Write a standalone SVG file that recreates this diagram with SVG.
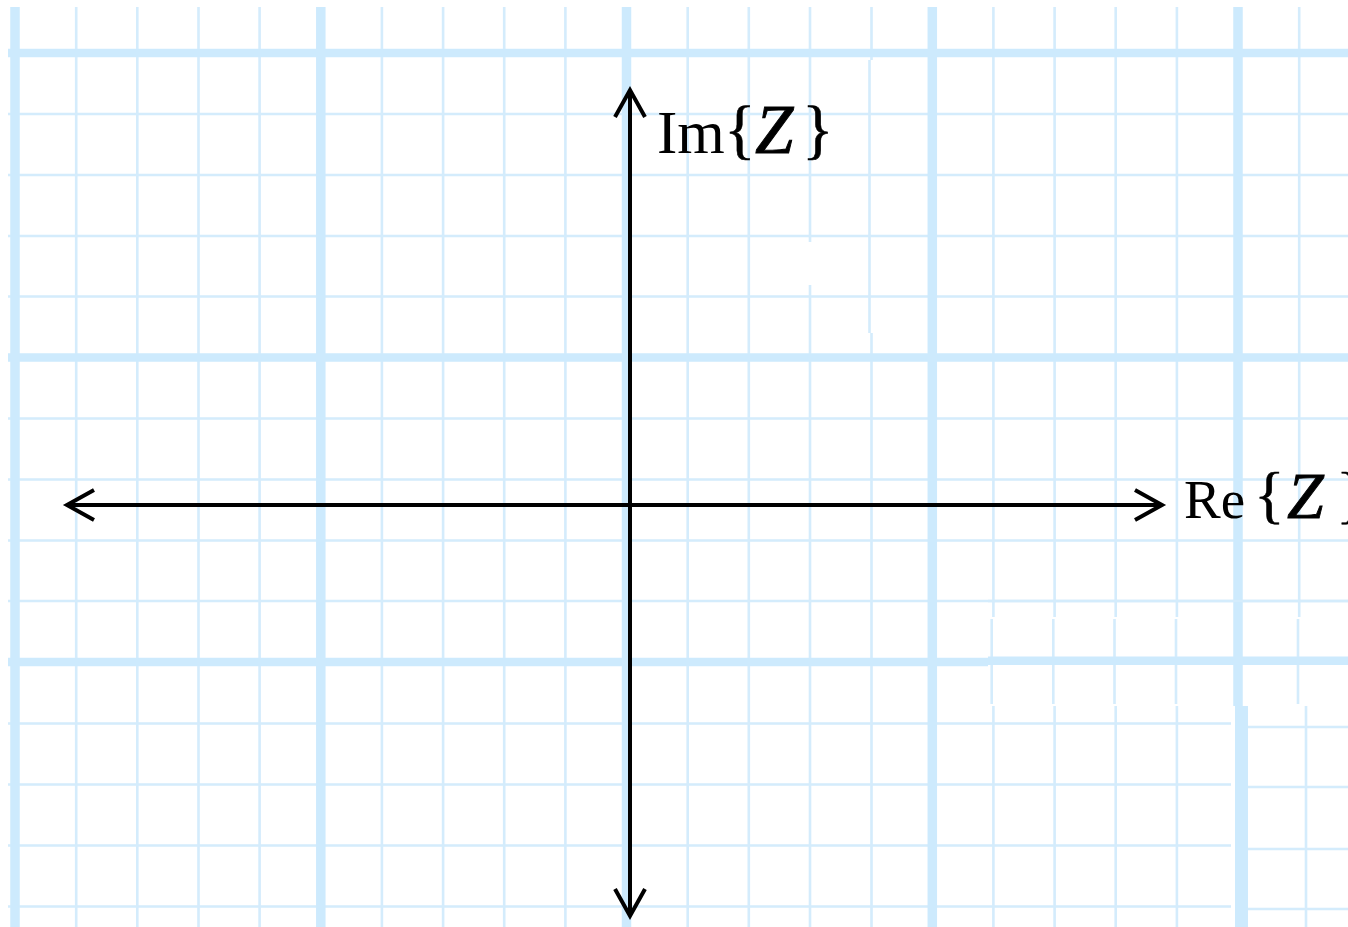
<svg xmlns="http://www.w3.org/2000/svg" width="1348" height="927" viewBox="0 0 1348 927">
<style>
.minor{stroke:#d4ecfc;stroke-width:2.6;fill:none}
.major{stroke:#cdeafd;fill:none}
.mv{stroke-width:9.5}
.mh{stroke-width:8.5}
.axis{stroke:#000;stroke-width:4;fill:none}
.lbl{font-family:"Liberation Serif","Times New Roman",serif;fill:#000}
.it{font-style:italic;stroke:#000;stroke-width:0.9}
.br{stroke:#000;stroke-width:0.5}
</style>
<defs>
<marker id="chev" markerUnits="userSpaceOnUse" markerWidth="40" markerHeight="40" viewBox="-34 -20 40 40" refX="0" refY="0" orient="auto-start-reverse" overflow="visible">
<path d="M-27,-15 L0,0 L-27,15" fill="none" stroke="#000" stroke-width="4" stroke-linejoin="miter"/>
</marker>
</defs>
<rect width="1348" height="927" fill="#fff"/>
<g id="grid">
<g id="minor-v" class="minor">
<path d="M76.2,7V927M137.3,7V927M198.5,7V927M259.6,7V927M381.9,7V927M443.1,7V927M504.2,7V927M565.4,7V927M687.7,7V927M748.8,7V927M810,7V242M810,285V927M871.5,7V60M869.5,60V333M871.5,333V927M993.4,7V927M1054.6,7V927M1115.7,7V927M1176.9,7V927M1299.2,7V927"/>
</g>
<g id="minor-h" class="minor">
<path d="M8,114H1348M8,175H1348M8,236H1348M8,296.5H1348M8,418.5H1348M8,479.5H1348M8,540.5H1348M8,601H1348M8,723.5H1348M8,784.5H1348M8,845.5H1348M8,906.5H1348"/>
</g>
<g id="major" class="major">
<path class="mv" d="M15,7V927M320.8,7V927M626.5,7V927M932.3,7V927M1238,7V927"/>
<path class="mh" d="M8,53H1348M8,357.5H1348M8,662H1348"/>
</g>
<g id="patch">
<rect x="988" y="617" width="360" height="89" fill="#fff"/>
<path class="minor" d="M991.7,619V704M1053.3,619V704M1114.5,619V704M1176,619V704M1298,619V704M988,601H1348"/>
<path class="major mv" d="M1238,617V706"/>
<path class="major mh" d="M988,660.7H1348"/>
<rect x="1231" y="706" width="117" height="221" fill="#fff"/>
<path class="minor" d="M1248,727H1348M1248,787H1348M1248,849H1348M1248,909H1348M1306,706V927"/>
<path class="major" stroke-width="13" d="M1241.5,706V927"/>
</g>
</g>
<g id="connectors">
<line id="re-axis" class="axis" x1="67" y1="505" x2="1162" y2="505" marker-start="url(#chev)" marker-end="url(#chev)"/>
<line id="im-axis" class="axis" x1="630" y1="90" x2="630" y2="916" marker-start="url(#chev)" marker-end="url(#chev)"/>
</g>
<g id="label-im" class="lbl">
<text y="153" font-size="61"><tspan x="657">Im</tspan><tspan x="724" y="151" font-size="66" class="br">{</tspan><tspan x="755" y="153" font-size="69" class="it">Z</tspan><tspan x="802" y="151" font-size="66" class="br">}</tspan></text>
</g>
<g id="label-re" class="lbl">
<text y="518" font-size="55"><tspan x="1184">Re</tspan><tspan x="1254" y="516" font-size="64" class="br">{</tspan><tspan x="1287" y="518" font-size="66" class="it">Z</tspan><tspan x="1336" y="516" font-size="64" class="br">}</tspan></text>
</g>
</svg>
